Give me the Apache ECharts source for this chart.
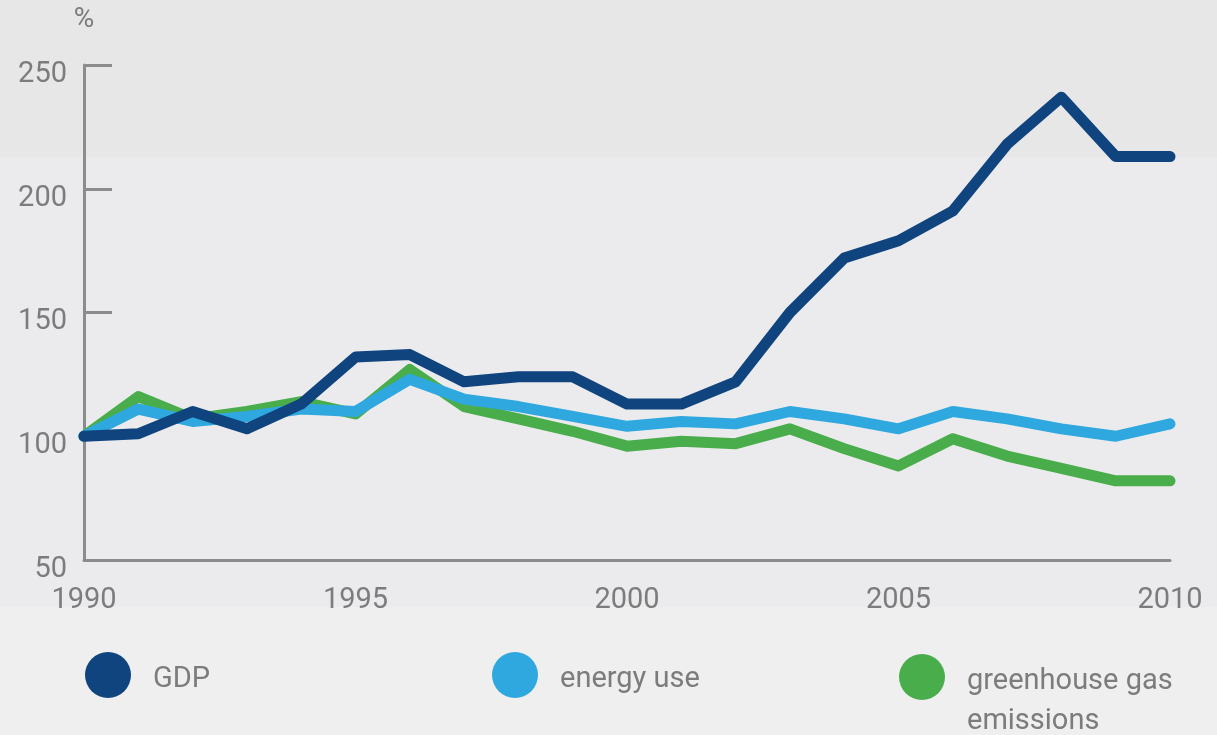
<!DOCTYPE html>
<html>
<head>
<meta charset="utf-8">
<script src="https://cdn.jsdelivr.net/npm/echarts@6/dist/echarts.min.js"></script>
<style>
  html, body { margin: 0; padding: 0; }
  #chart {
    width: 1217px; height: 735px;
    background: linear-gradient(to bottom, #e7e7e7 0px, #e7e7e7 157px, #ebebed 157px, #ebebed 607px, #efefef 607px, #efefef 735px);
  }
</style>
</head>
<body>
<div id="chart"></div>
<script>
const years = ['1990','1991','1992','1993','1994','1995','1996','1997','1998','1999','2000','2001','2002','2003','2004','2005','2006','2007','2008','2009','2010'];
const gdp = [100, 101, 110, 103, 113, 132, 133, 122, 124, 124, 113, 113, 122, 150, 172, 179, 191, 218, 237, 213, 213];
const energyUse = [100, 111, 106, 108, 111, 110, 123, 115, 112, 108, 104, 106, 105, 110, 107, 103, 110, 107, 103, 100, 105];
const ghg = [100, 116, 107, 110, 114, 109, 127, 112, 107, 102, 96, 98, 97, 103, 95, 88, 99, 92, 87, 82, 82];
const seriesNames = ['GDP', 'energy use', 'greenhouse gas\nemissions'];
const yTicks = { min: 50, max: 250, interval: 50 };

const colors = ['#10447f', '#2ea8df', '#4aad4c'];
const font = 'Roboto, "Noto Sans", sans-serif';
const textColor = '#7c7c7c';
const axisColor = '#8c8c8c';

const chart = echarts.init(document.getElementById('chart'), null, { renderer: 'canvas' });

const legendText = { fontFamily: font, fontSize: 29, color: textColor, lineHeight: 40 };

function legend(i, left, top) {
  return {
    data: [seriesNames[i]],
    left: left,
    top: top,
    padding: 0,
    icon: 'circle',
    itemWidth: 46,
    itemHeight: 46,
    selectedMode: false,
    formatter: (name) => {
      const lines = name.split('\n');
      if (lines.length > 1) {
        return '{s| }\n' + lines.map((l) => '{t|' + l + '}').join('\n');
      }
      return '{p|' + name + '}';
    },
    textStyle: Object.assign({}, legendText, {
      padding: [0, 0, 0, 17],
      rich: {
        p: Object.assign({}, legendText, { padding: [10, 0, 0, 0] }),
        s: Object.assign({}, legendText, { lineHeight: 50 }),
        t: Object.assign({}, legendText)
      }
    })
  };
}

const lineStyle = (c) => ({ width: 11, color: c, cap: 'round', join: 'round' });

chart.setOption({
  backgroundColor: 'transparent',
  animation: false,
  grid: { left: 84, right: 47, top: 65, bottom: 175, containLabel: false },
  legend: [
    legend(0, 85, 652),
    legend(1, 492, 652),
    legend(2, 899, 612)
  ],
  xAxis: {
    type: 'category',
    data: years,
    boundaryGap: false,
    axisLine: { lineStyle: { color: axisColor, width: 3 } },
    axisTick: { show: false },
    axisLabel: {
      interval: 4,
      margin: 26,
      fontFamily: font,
      fontSize: 29,
      color: textColor
    },
    splitLine: { show: false }
  },
  yAxis: {
    type: 'value',
    min: yTicks.min,
    max: yTicks.max,
    interval: yTicks.interval,
    name: '%',
    nameLocation: 'end',
    nameGap: 31,
    nameTextStyle: { fontFamily: font, fontSize: 28, color: textColor, align: 'center' },
    axisLine: { show: true, lineStyle: { color: axisColor, width: 3 } },
    axisTick: { show: true, inside: true, length: 28, lineStyle: { color: axisColor, width: 3 } },
    axisLabel: {
      margin: 17,
      formatter: '{v|{value}}',
      rich: {
        v: { fontFamily: font, fontSize: 29, color: textColor, padding: [19, 0, 0, 0] }
      }
    },
    splitLine: { show: false }
  },
  series: [
    { name: seriesNames[2], type: 'line', data: ghg, symbol: 'none', itemStyle: { color: colors[2] }, lineStyle: lineStyle(colors[2]), z: 2 },
    { name: seriesNames[1], type: 'line', data: energyUse, symbol: 'none', itemStyle: { color: colors[1] }, lineStyle: lineStyle(colors[1]), z: 3 },
    { name: seriesNames[0], type: 'line', data: gdp, symbol: 'none', itemStyle: { color: colors[0] }, lineStyle: lineStyle(colors[0]), z: 4 }
  ]
});
</script>
</body>
</html>
